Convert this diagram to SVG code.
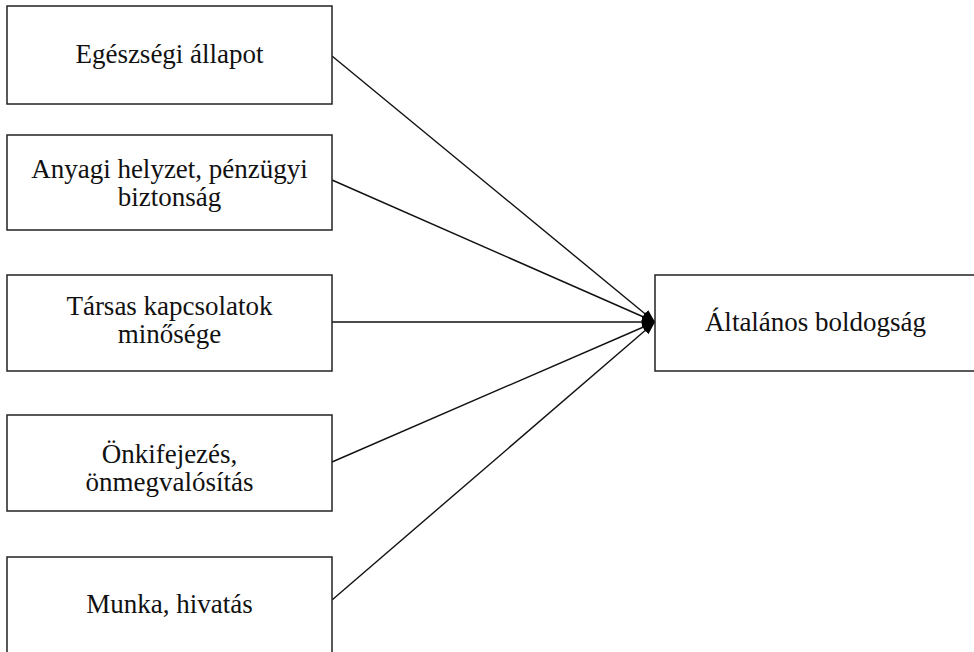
<svg xmlns="http://www.w3.org/2000/svg" width="974" height="652" viewBox="0 0 974 652">
  <style>
    .box { fill: #ffffff; stroke: #222222; stroke-width: 1.5; }
    .lbl { font-family: "Liberation Serif", "Times New Roman", serif; font-size: 27px; fill: #111111; text-anchor: middle; }
    .link { stroke: #111111; stroke-width: 1.4; fill: none; marker-end: url(#head); }
  </style>
  <defs>
    <marker id="head" markerUnits="userSpaceOnUse" markerWidth="16" markerHeight="14" refX="13" refY="6" orient="auto">
      <path d="M0,1 L13,6 L0,11 z" fill="#000000"/>
    </marker>
  </defs>
  <rect width="974" height="652" fill="#ffffff"/>

  <g id="connectors">
    <line class="link" x1="332" y1="56" x2="655" y2="322"/>
    <line class="link" x1="332" y1="180" x2="655" y2="322"/>
    <line class="link" x1="332" y1="322" x2="655" y2="322"/>
    <line class="link" x1="332" y1="462" x2="655" y2="322"/>
    <line class="link" x1="332" y1="600" x2="655" y2="322"/>
  </g>

  <g id="egeszseg">
    <rect class="box" x="7" y="6" width="325" height="98"/>
    <text class="lbl" x="169.5" y="63">Egészségi állapot</text>
  </g>
  <g id="anyagi">
    <rect class="box" x="7" y="135" width="325" height="95"/>
    <text class="lbl" x="169.5" y="178">Anyagi helyzet, pénzügyi</text>
    <text class="lbl" x="169.5" y="206">biztonság</text>
  </g>
  <g id="tarsas">
    <rect class="box" x="7" y="275" width="325" height="96"/>
    <text class="lbl" x="169.5" y="315">Társas kapcsolatok</text>
    <text class="lbl" x="169.5" y="343">minősége</text>
  </g>
  <g id="onkifejezes">
    <rect class="box" x="7" y="415" width="325" height="96"/>
    <text class="lbl" x="169.5" y="463">Önkifejezés,</text>
    <text class="lbl" x="169.5" y="491">önmegvalósítás</text>
  </g>
  <g id="munka">
    <rect class="box" x="7" y="557" width="325" height="97"/>
    <text class="lbl" x="169.5" y="613">Munka, hivatás</text>
  </g>
  <g id="boldogsag">
    <rect class="box" x="655" y="275" width="322" height="96"/>
    <text class="lbl" x="815.5" y="331">Általános boldogság</text>
  </g>
</svg>
